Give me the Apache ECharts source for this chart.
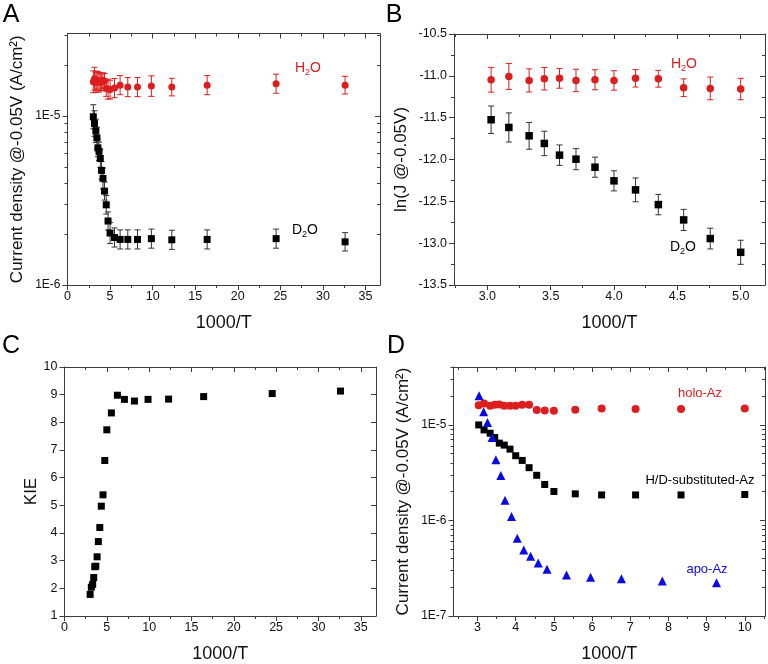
<!DOCTYPE html>
<html><head><meta charset="utf-8">
<script src="https://cdn.jsdelivr.net/npm/echarts@6/dist/echarts.min.js"></script>
<style>html,body{margin:0;padding:0;background:#fff}#c{width:768px;height:664px}</style>
</head><body><div id="c"></div>
<script>
// ================= DATA =================
// Panel A: current density vs 1000/T (log scale), H2O and D2O, with error bars (ln units)
const xA = [3.03,3.17,3.33,3.45,3.57,3.70,3.85,4.00,4.17,4.35,4.55,4.76,5.00,5.52,6.18,7.08,8.22,9.85,12.25,16.4,24.5,32.6];
const jH2O_A = [1.59e-5,1.66e-5,1.58e-5,1.61e-5,1.62e-5,1.58e-5,1.59e-5,1.58e-5,1.62e-5,1.61e-5,1.45e-5,1.44e-5,1.43e-5,1.46e-5,1.52e-5,1.48e-5,1.48e-5,1.50e-5,1.48e-5,1.52e-5,1.55e-5,1.52e-5];
const errH2O_A = [0.148,0.155,0.138,0.134,0.118,0.134,0.12,0.116,0.104,0.10,0.106,0.136,0.128,0.13,0.13,0.13,0.13,0.14,0.12,0.13,0.13,0.12];
const jD2O_A = [9.88e-6,9.01e-6,8.15e-6,7.41e-6,6.47e-6,6.17e-6,5.60e-6,4.76e-6,4.27e-6,3.59e-6,2.98e-6,2.39e-6,2.03e-6,1.91e-6,1.86e-6,1.86e-6,1.86e-6,1.88e-6,1.85e-6,1.86e-6,1.88e-6,1.80e-6];
const errD2O_A = [0.164,0.174,0.16,0.146,0.122,0.126,0.12,0.12,0.142,0.122,0.126,0.124,0.144,0.13,0.13,0.13,0.13,0.13,0.13,0.13,0.13,0.125];

// Panel B: ln(J) vs 1000/T
const xB = [3.03,3.17,3.33,3.45,3.57,3.70,3.85,4.00,4.17,4.35,4.55,4.76,5.00];
const lnH2O_B = [-11.047,-11.007,-11.055,-11.035,-11.03,-11.055,-11.047,-11.055,-11.03,-11.035,-11.142,-11.15,-11.158];
const errH2O_B = [0.148,0.155,0.138,0.134,0.118,0.134,0.12,0.116,0.104,0.10,0.106,0.136,0.128];
const lnD2O_B = [-11.525,-11.617,-11.717,-11.808,-11.948,-11.996,-12.092,-12.255,-12.363,-12.539,-12.722,-12.945,-13.109];
const errD2O_B = [0.164,0.174,0.16,0.146,0.122,0.126,0.12,0.12,0.142,0.122,0.126,0.124,0.144];

// Panel C: KIE vs 1000/T
const xC = [3.03,3.17,3.33,3.45,3.57,3.70,3.85,4.00,4.17,4.35,4.55,4.76,5.00,5.54,6.25,7.08,8.26,9.87,12.3,16.44,24.54,32.6];
const kieC = [1.78,2.04,2.14,2.39,2.78,2.80,3.14,3.69,4.20,4.97,5.38,6.62,7.73,8.34,8.98,8.83,8.77,8.83,8.84,8.93,9.04,9.13];

// Panel D: current density (log) for holo-Az, H/D-substituted-Az, apo-Az
const xD = [3.03,3.17,3.33,3.45,3.57,3.70,3.85,4.00,4.17,4.35,4.55,4.76,5.00,5.56,6.25,7.14,8.33,10.0];
const jHolo = [1.61e-5,1.68e-5,1.59e-5,1.63e-5,1.64e-5,1.59e-5,1.59e-5,1.59e-5,1.63e-5,1.63e-5,1.43e-5,1.42e-5,1.41e-5,1.44e-5,1.49e-5,1.47e-5,1.47e-5,1.49e-5];
const jHD = [1.0e-5,8.87e-6,8.19e-6,7.38e-6,6.45e-6,6.15e-6,5.58e-6,4.76e-6,4.25e-6,3.57e-6,2.97e-6,2.38e-6,2.01e-6,1.90e-6,1.85e-6,1.85e-6,1.85e-6,1.87e-6];
const xApo = [3.04,3.16,3.26,3.38,3.48,3.61,3.72,3.89,4.04,4.21,4.39,4.59,4.82,5.33,5.96,6.77,7.84,9.26];
const jApo = [2.02e-5,1.37e-5,1.06e-5,7.38e-6,4.33e-6,2.95e-6,1.63e-6,1.10e-6,6.53e-7,4.9e-7,4.21e-7,3.59e-7,3.09e-7,2.69e-7,2.55e-7,2.45e-7,2.32e-7,2.23e-7];

// Tick label values
const ticksX_AC = [0,5,10,15,20,25,30,35];
const ticksX_B = [3.0,3.5,4.0,4.5,5.0];
const ticksX_D = [3,4,5,6,7,8,9,10];
const ticksY_A = [1e-6,1e-5];
const ticksY_B = [-13.5,-13.0,-12.5,-12.0,-11.5,-11.0,-10.5];
const ticksY_C = [1,2,3,4,5,6,7,8,9,10];
const ticksY_D = [1e-7,1e-6,1e-5];

// ================= STYLE / HELPERS =================
const FONT = '"Liberation Sans", Arial, sans-serif';
const AX = '#3c3c3c';
const RED = '#dc1e1e';
const BLUE = '#0a0ae6';

function range(a, b, step) { const r = []; for (let v = a; v <= b + 1e-9; v += step) r.push(+v.toFixed(6)); return r; }
function minorsBetween(a, b, step, majors) {
  return range(a, b, step).filter(v => !majors.some(m => Math.abs(m - v) < 1e-6));
}
function logMinors(lo, hi) {
  const out = [];
  for (let e = Math.floor(Math.log10(lo)); e <= Math.ceil(Math.log10(hi)); e++)
    for (let k = 2; k <= 9; k++) { const v = k * Math.pow(10, e); if (v >= lo && v <= hi) out.push(v); }
  return out;
}
const logFmt = v => '1E' + Math.round(Math.log10(v));

function makeAxes(dim, grid, cfg) {
  const sides = dim === 'x' ? ['bottom', 'top'] : ['left', 'right'];
  const common = { gridIndex: grid, type: cfg.type, min: cfg.min, max: cfg.max,
    splitLine: { show: false }, minorTick: { show: false }, axisPointer: { show: false } };
  if (cfg.type === 'log') common.logBase = 10;
  const tick = (vals, len, inside) => ({ show: true, inside, length: len, customValues: vals, lineStyle: { color: AX, width: 1 } });
  return [
    Object.assign({}, common, {
      position: sides[0],
      axisLine: { show: true, onZero: false, lineStyle: { color: AX, width: 1 } },
      axisTick: tick(cfg.majors, 5, false),
      axisLabel: { show: true, customValues: cfg.majors, formatter: cfg.fmt, color: '#111', fontSize: cfg.fs || 12.5, fontFamily: FONT, margin: cfg.margin || 5 },
      name: cfg.name, nameLocation: 'middle', nameGap: cfg.nameGap,
      nameTextStyle: { fontSize: dim === 'x' ? 18 : 17, fontFamily: FONT, color: '#111' }
    }),
    Object.assign({}, common, { position: sides[0], axisLine: { show: false, onZero: false }, axisTick: tick(cfg.minors, 3, false), axisLabel: { show: false } }),
    Object.assign({}, common, { position: sides[1], axisLine: { show: true, onZero: false, lineStyle: { color: AX, width: 1 } }, axisTick: tick(cfg.majors, 5, true), axisLabel: { show: false } }),
    Object.assign({}, common, { position: sides[1], axisLine: { show: false, onZero: false }, axisTick: tick(cfg.minors, 3, true), axisLabel: { show: false } })
  ];
}

function errSeries(ax, data, color) {
  return { type: 'custom', xAxisIndex: ax, yAxisIndex: ax, data, encode: { x: 0, y: [2, 3] }, silent: true, z: 2,
    renderItem(params, api) {
      const x = api.value(0), lo = api.value(2), hi = api.value(3);
      const a = api.coord([x, lo]), b = api.coord([x, hi]);
      const w = 3, st = { stroke: color, lineWidth: 1 };
      return { type: 'group', children: [
        { type: 'line', shape: { x1: a[0], y1: a[1], x2: b[0], y2: b[1] }, style: st },
        { type: 'line', shape: { x1: a[0] - w, y1: a[1], x2: a[0] + w, y2: a[1] }, style: st },
        { type: 'line', shape: { x1: b[0] - w, y1: b[1], x2: b[0] + w, y2: b[1] }, style: st }
      ] };
    } };
}
function scat(ax, data, symbol, size, color) {
  return { type: 'scatter', xAxisIndex: ax, yAxisIndex: ax, data, symbol, symbolSize: size, itemStyle: { color, opacity: 1 }, z: 3, silent: true };
}

// ================= GRIDS & AXES =================
const grids = [
  { left: 67.5, top: 33.5, width: 312.5, height: 251.5 },   // A
  { left: 454, top: 34, width: 311, height: 251 },          // B
  { left: 64.5, top: 367, width: 311.5, height: 250.5 },    // C
  { left: 453.5, top: 367, width: 311.5, height: 250.5 }    // D
];

const xAxes = [].concat(
  makeAxes('x', 0, { type: 'value', min: 0, max: 36.7, majors: ticksX_AC, minors: minorsBetween(2.5, 35, 2.5, ticksX_AC), fmt: v => String(v), name: '1000/T', nameGap: 29 }),
  makeAxes('x', 1, { type: 'value', min: 2.737, max: 5.192, majors: ticksX_B, minors: minorsBetween(2.75, 5.0, 0.25, ticksX_B), fmt: v => v.toFixed(1), name: '1000/T', nameGap: 29 }),
  makeAxes('x', 2, { type: 'value', min: 0, max: 36.8, majors: ticksX_AC, minors: minorsBetween(2.5, 35, 2.5, ticksX_AC), fmt: v => String(v), name: '1000/T', nameGap: 29 }),
  makeAxes('x', 3, { type: 'value', min: 2.37, max: 10.53, majors: ticksX_D, minors: minorsBetween(2.5, 10.5, 0.5, ticksX_D), fmt: v => String(v), name: '1000/T', nameGap: 29 })
);
const yAxes = [].concat(
  makeAxes('y', 0, { type: 'log', min: 1e-6, max: 3.07e-5, majors: ticksY_A, minors: logMinors(1e-6, 3.07e-5), fmt: logFmt, fs: 12, name: 'Current density @-0.05V (A/cm²)', nameGap: 42, margin: 7 }),
  makeAxes('y', 1, { type: 'value', min: -13.5, max: -10.5, majors: ticksY_B, minors: minorsBetween(-13.25, -10.75, 0.5, ticksY_B), fmt: v => v.toFixed(1), name: 'ln(J @-0.05V)', nameGap: 44, margin: 7 }),
  makeAxes('y', 2, { type: 'value', min: 1, max: 10, majors: ticksY_C, minors: [], fmt: v => String(v), name: 'KIE', nameGap: 22, margin: 7 }),
  makeAxes('y', 3, { type: 'log', min: 1e-7, max: 4.04e-5, majors: ticksY_D, minors: logMinors(1e-7, 4.04e-5), fmt: logFmt, fs: 12, name: 'Current density @-0.05V (A/cm²)', nameGap: 42, margin: 7 })
);

// ================= SERIES =================
const series = [
  // A
  errSeries(0, xA.map((x, i) => [x, jH2O_A[i], jH2O_A[i] * Math.exp(-errH2O_A[i]), jH2O_A[i] * Math.exp(errH2O_A[i])]), RED),
  errSeries(0, xA.map((x, i) => [x, jD2O_A[i], jD2O_A[i] * Math.exp(-errD2O_A[i]), jD2O_A[i] * Math.exp(errD2O_A[i])]), '#333'),
  scat(0, xA.map((x, i) => [x, jH2O_A[i]]), 'circle', 7, RED),
  scat(0, xA.map((x, i) => [x, jD2O_A[i]]), 'rect', 7, '#000'),
  // B
  errSeries(4, xB.map((x, i) => [x, lnH2O_B[i], lnH2O_B[i] - errH2O_B[i], lnH2O_B[i] + errH2O_B[i]]), RED),
  errSeries(4, xB.map((x, i) => [x, lnD2O_B[i], lnD2O_B[i] - errD2O_B[i], lnD2O_B[i] + errD2O_B[i]]), '#333'),
  scat(4, xB.map((x, i) => [x, lnH2O_B[i]]), 'circle', 7.5, RED),
  scat(4, xB.map((x, i) => [x, lnD2O_B[i]]), 'rect', 7.5, '#000'),
  // C
  scat(8, xC.map((x, i) => [x, kieC[i]]), 'rect', 7, '#000'),
  // D
  scat(12, xD.map((x, i) => [x, jHolo[i]]), 'circle', 8, RED),
  scat(12, xD.map((x, i) => [x, jHD[i]]), 'rect', 7, '#000'),
  scat(12, xApo.map((x, i) => [x, jApo[i]]), 'triangle', 9, BLUE)
];

// ================= ANNOTATIONS =================
function label(text, x, y, size, color) {
  return { type: 'text', x, y, silent: true, style: { text, fill: color, font: size + 'px ' + FONT, textAlign: 'center', textVerticalAlign: 'middle' } };
}
function chem(first, x, y, color) {
  return { type: 'text', x, y, silent: true, style: {
    text: '{a|' + first + '}{s|2}{a|O}', fill: color, textAlign: 'center', textVerticalAlign: 'middle',
    rich: { a: { fontSize: 14, fontFamily: FONT, color, lineHeight: 18, verticalAlign: 'middle' },
            s: { fontSize: 9, fontFamily: FONT, color, lineHeight: 18, verticalAlign: 'bottom' } } } };
}
const graphic = [
  label('A', 11, 15, 25, '#000'), label('B', 394, 15, 25, '#000'),
  label('C', 11, 346, 25, '#000'), label('D', 396, 346, 25, '#000'),
  chem('H', 308, 68, RED), chem('D', 305, 230, '#000'),
  chem('H', 684, 64, RED), chem('D', 683, 247, '#000'),
  label('holo-Az', 700, 393, 13, RED),
  label('H/D-substituted-Az', 700, 480, 13, '#000'),
  label('apo-Az', 707, 569, 13, BLUE)
];

const chart = echarts.init(document.getElementById('c'), null, { renderer: 'canvas' });
chart.setOption({
  animation: false, backgroundColor: '#fff',
  grid: grids, xAxis: xAxes, yAxis: yAxes, series, graphic
});
</script></body></html>
